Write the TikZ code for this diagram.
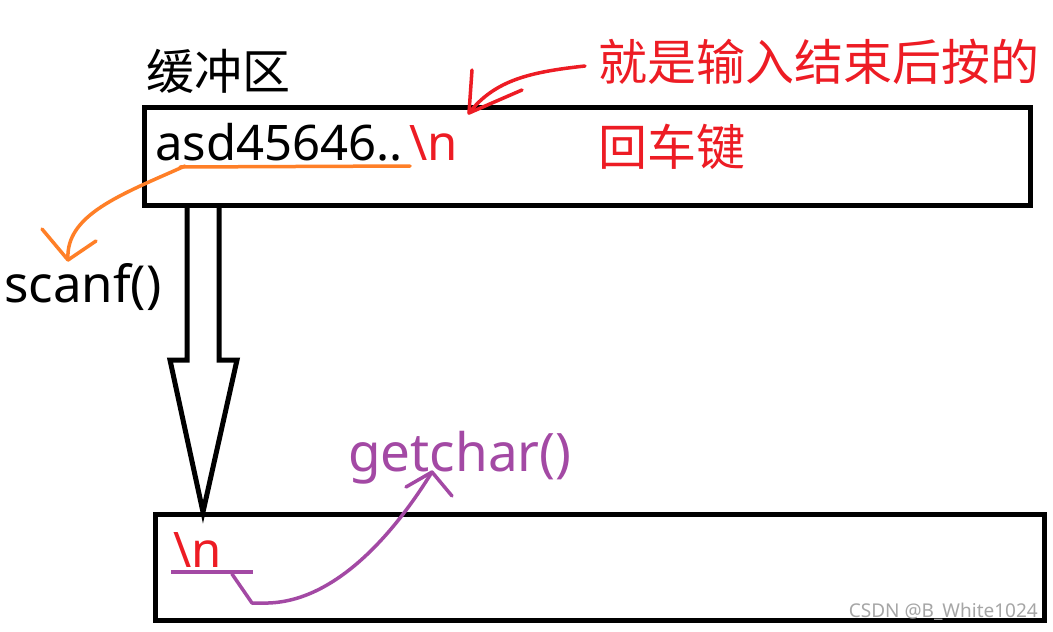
\documentclass[tikz,border=0pt]{standalone}
\usepackage{fontspec}
\setmainfont{Noto Sans}
\newfontfamily\cjk{Noto Sans CJK SC}
\definecolor{pred}{HTML}{ED1C24}
\definecolor{porange}{HTML}{FF7F27}
\definecolor{ppurple}{HTML}{A349A4}
\begin{document}
\begin{tikzpicture}[x=1pt,y=-1pt,
  boxst/.style={draw=black,line width=5pt,minimum width=#1,anchor=north west,inner sep=0pt},
  txt/.style={anchor=base west,inner sep=0pt,font=\fontsize{49}{49}\selectfont},
  pen/.style={line width=3.5pt,line cap=round,line join=round}]
\useasboundingbox (0,0) rectangle (1053,632);
\fill[white] (0,0) rectangle (1053,632);
% boxes
\node[boxst=886pt,minimum height=98pt] (buf) at (142,105) {};
\node[boxst=889pt,minimum height=106pt] (out) at (153,512) {};
% texts
\node[txt,font=\cjk\fontsize{48}{48}\selectfont] (title) at (146,89) {缓冲区};
\node[txt] (data) at (155,160) {asd45646..};
\node[txt,text=pred] (nl) at (409,160) {\textbackslash n};
\node[txt,text=pred,font=\cjk\fontsize{49}{49}\selectfont] (note1) at (598,80) {就是输入结束后按的};
\node[txt,text=pred,font=\cjk\fontsize{49}{49}\selectfont] (note2) at (598,165) {回车键};
\node[txt,font=\fontsize{51}{51}\selectfont] (scanf) at (4,302) {scanf()};
\node[txt,text=ppurple,font=\fontsize{53}{53}\selectfont] (getchar) at (348,471) {getchar()};
\node[txt,text=pred] (nl2) at (173,567) {\textbackslash n};
\node[anchor=base east,inner sep=0pt,text=black!35,font=\fontsize{19}{19}\selectfont] (wm) at (1038,617) {CSDN @B\_White1024};
% hollow arrow
\draw[line width=5pt,line join=miter] (187,205) -- (187,360) -- (170,360) -- (203,512) -- (237,360) -- (219,360) -- (219,205);
% red pointer
\coordinate (rtip) at (469,113);
\draw[pen,draw=pred] (585,66) .. controls (530,72) and (495,80) .. (rtip);
\draw[pen,draw=pred] (472,70) -- (rtip) -- (522,90);
% orange
\coordinate (otip) at (68,260);
\draw[pen,draw=porange] (180,167) -- (410,166);
\draw[pen,draw=porange] (185,166) .. controls (120,195) and (65,215) .. (otip);
\draw[pen,draw=porange] (42,229) -- (otip) -- (96,241);
% purple
\coordinate (ptip) at (432,472);
\draw[pen,draw=ppurple,line cap=butt] (171,572) -- (253,572);
\draw[pen,draw=ppurple] (232,574) -- (252,603) -- (262,603) .. controls (330,605) and (390,540) .. (ptip);
\draw[pen,draw=ppurple] (406,487) -- (ptip) -- (452,496);
\end{tikzpicture}
\end{document}
